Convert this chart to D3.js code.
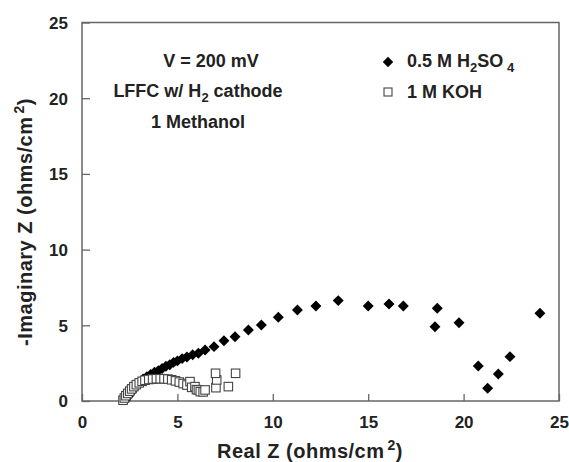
<!DOCTYPE html>
<html>
<head>
<meta charset="utf-8">
<script src="https://cdn.jsdelivr.net/npm/d3@7/dist/d3.min.js"></script>
<style>
  body { margin: 0; background: #fff; }
  text { font-family: "Liberation Sans", Arial, sans-serif; font-weight: bold; fill: #222; }
</style>
</head>
<body>
<svg id="chart" width="569" height="462"></svg>
<script>
// Data
const xTicks = [0, 5, 10, 15, 20, 25];
const yTicks = [0, 5, 10, 15, 20, 25];

const h2so4X = [2.3, 2.45, 2.6, 2.75, 2.9, 3.05, 3.2, 3.4, 3.6, 3.8, 4.0, 4.2, 4.4, 4.6, 4.8, 5.0, 5.25, 5.5, 5.8, 6.1, 6.45, 6.92, 7.44, 8.02, 8.72, 9.4, 10.29, 11.29, 12.26, 13.43, 15.0, 16.09, 16.84, 18.62, 18.5, 19.76, 20.77, 21.26, 21.82, 22.43, 24.0];
const h2so4Y = [0.1, 0.35, 0.6, 0.85, 1.05, 1.25, 1.45, 1.6, 1.75, 1.9, 2.0, 2.15, 2.3, 2.4, 2.55, 2.65, 2.8, 2.9, 3.05, 3.15, 3.37, 3.59, 3.98, 4.25, 4.69, 5.02, 5.53, 6.01, 6.27, 6.63, 6.27, 6.41, 6.27, 6.12, 4.91, 5.17, 2.31, 0.84, 1.78, 2.93, 5.79];

const kohX = [2.15, 2.22, 2.3, 2.4, 2.5, 2.6, 2.72, 2.85, 3.0, 3.15, 3.3, 3.5, 3.7, 3.9, 4.1, 4.3, 4.5, 4.7, 4.9, 5.1, 5.3, 5.5, 5.66, 5.75, 5.92, 6.0, 6.1, 6.2, 6.35, 6.45, 7.02, 7.06, 7.0, 7.67, 8.05];
const kohY = [0.05, 0.2, 0.35, 0.5, 0.65, 0.8, 0.95, 1.08, 1.2, 1.3, 1.37, 1.42, 1.45, 1.47, 1.47, 1.47, 1.45, 1.4, 1.33, 1.25, 1.15, 1.05, 1.28, 0.9, 0.95, 0.75, 0.73, 0.62, 0.6, 0.73, 0.88, 1.39, 1.83, 0.95, 1.83];

const svg = d3.select("#chart");
const margin = {left: 82, right: 10, top: 22.5, bottom: 61};
const W = 569, H = 462;
const x = d3.scaleLinear().domain([0, 25]).range([margin.left, W - margin.right]);
const y = d3.scaleLinear().domain([0, 25]).range([H - margin.bottom, margin.top]);

const frameColor = "#666";

// frame
svg.append("rect")
  .attr("x", x(0)).attr("y", y(25))
  .attr("width", x(25) - x(0)).attr("height", y(0) - y(25))
  .attr("fill", "none").attr("stroke", frameColor).attr("stroke-width", 1.5);

// axes with inward ticks
const xAxis = svg.append("g").attr("transform", `translate(0,${y(0)})`)
  .call(d3.axisBottom(x).tickValues(xTicks).tickSize(-7).tickPadding(0).tickFormat(d3.format("d")));
xAxis.select(".domain").remove();
xAxis.selectAll("line").attr("stroke", frameColor).attr("stroke-width", 1.3);
xAxis.selectAll("text").attr("y", 27).attr("dy", 0).style("font-size", "17px").attr("fill", "#222");

const yAxis = svg.append("g").attr("transform", `translate(${x(0)},0)`)
  .call(d3.axisLeft(y).tickValues(yTicks).tickSize(-8).tickPadding(0).tickFormat(d3.format("d")));
yAxis.select(".domain").remove();
yAxis.selectAll("line").attr("stroke", frameColor).attr("stroke-width", 1.3);
yAxis.selectAll("text").attr("x", -14).attr("dy", "0.35em").style("font-size", "17px").attr("fill", "#222");

// clip
svg.append("clipPath").attr("id", "clip").append("rect")
  .attr("x", x(0)).attr("y", y(25)).attr("width", x(25) - x(0)).attr("height", y(0) - y(25) + 6);

const plot = svg.append("g").attr("clip-path", "url(#clip)");

const h2so4 = h2so4X.map((v, i) => [v, h2so4Y[i]]);
const koh = kohX.map((v, i) => [v, kohY[i]]);

const diamond = d3.symbol().type(d3.symbolSquare).size(60);
plot.selectAll(".dia").data(h2so4).join("path")
  .attr("d", diamond)
  .attr("transform", d => `translate(${x(d[0])},${y(d[1])}) rotate(45)`)
  .attr("fill", "#000");

const sq = 8.5;
plot.selectAll(".sq").data(koh).join("rect")
  .attr("x", d => x(d[0]) - sq / 2).attr("y", d => y(d[1]) - sq / 2)
  .attr("width", sq).attr("height", sq)
  .attr("fill", "#fff").attr("stroke", "#444").attr("stroke-width", 1.1);

// annotations
svg.append("text").attr("x", 211).attr("y", 67).attr("text-anchor", "middle")
  .style("font-size", "18px").text("V = 200 mV");
const t2 = svg.append("text").attr("x", 198).attr("y", 97).attr("text-anchor", "middle").style("font-size", "18px");
t2.append("tspan").text("LFFC w/ H");
t2.append("tspan").text("2").attr("dy", 5).style("font-size", "13px");
t2.append("tspan").text(" cathode").attr("dy", -5);
svg.append("text").attr("x", 198).attr("y", 128).attr("text-anchor", "middle")
  .style("font-size", "18px").text("1 Methanol");

// legend
const lg = svg.append("g");
lg.append("path").attr("d", d3.symbol().type(d3.symbolSquare).size(55)())
  .attr("transform", "translate(388,62) rotate(45)").attr("fill", "#000");
const l1 = lg.append("text").attr("x", 407).attr("y", 67).style("font-size", "18px");
l1.append("tspan").text("0.5 M H");
l1.append("tspan").text("2").attr("dy", 5).style("font-size", "13px");
l1.append("tspan").text("SO").attr("dy", -5);
l1.append("tspan").text(" 4").attr("dy", 5).style("font-size", "13px");
lg.append("rect").attr("x", 384).attr("y", 88).attr("width", 8).attr("height", 8)
  .attr("fill", "#fff").attr("stroke", "#444").attr("stroke-width", 1.1);
lg.append("text").attr("x", 407).attr("y", 98).style("font-size", "18px").text("1 M KOH");

// axis titles
const xt = svg.append("text").attr("x", 310).attr("y", 458).attr("text-anchor", "middle")
  .style("font-size", "20px").style("letter-spacing", "0.5px");
xt.append("tspan").text("Real Z (ohms/cm");
xt.append("tspan").text("2").attr("dx", 3).attr("dy", -8).style("font-size", "14px");
xt.append("tspan").text(")").attr("dy", 8);

const yt = svg.append("text").attr("transform", `translate(32,${222}) rotate(-90)`)
  .attr("text-anchor", "middle").style("font-size", "20px").style("letter-spacing", "0.5px");
yt.append("tspan").text("-Imaginary Z (ohms/cm");
yt.append("tspan").text("2").attr("dx", 3).attr("dy", -8).style("font-size", "14px");
yt.append("tspan").text(")").attr("dy", 8);
</script>
</body>
</html>
